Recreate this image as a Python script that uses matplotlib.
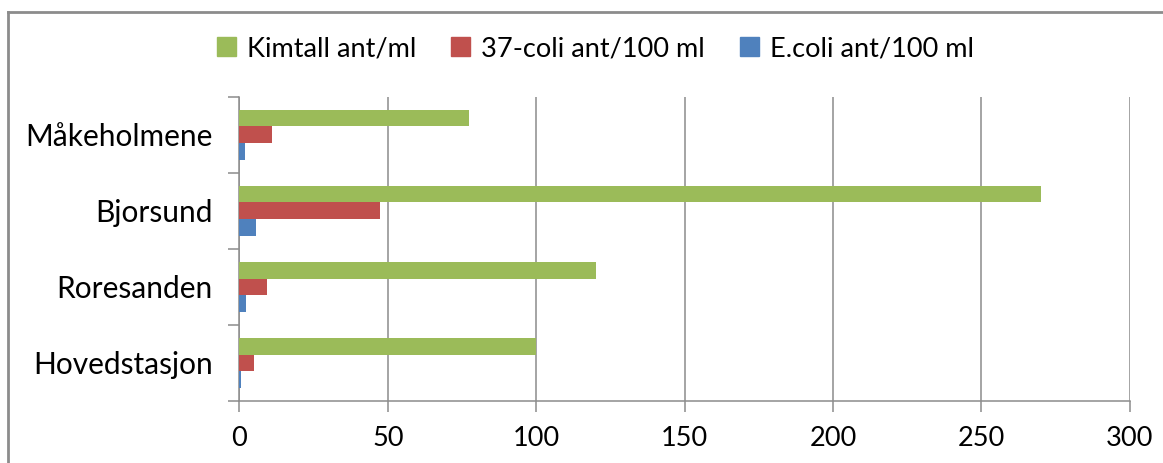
import numpy as np
from matplotlib import pyplot as plt
from matplotlib.lines import Line2D

plt.rcParams['font.family'] = ['Lato', 'DejaVu Sans']

stations = ['Hovedstasjon', 'Roresanden', 'Bjorsund', 'Måkeholmene']
kimtall = [100, 120.3, 270, 77.5]
coli37 = [5.0, 9.4, 47.4, 11.1]
ecoli = [0.5, 2.1, 5.6, 1.8]
series_names = ['Kimtall ant/ml', '37-coli ant/100 ml', 'E.coli ant/100 ml']
colors = ['#9BBB59', '#C0504D', '#4F81BD']
xticks = [0, 50, 100, 150, 200, 250, 300]

fig = plt.figure(figsize=(11.63, 4.63), dpi=100)
ax = fig.add_axes([0.2058, 0.1339, 0.7656, 0.6572])

y = np.arange(len(stations))
h = 0.22
for vals, off, c, name in zip([kimtall, coli37, ecoli], [h, 0, -h], colors, series_names):
    ax.barh(y + off, vals, height=h, color=c, label=name, zorder=3)

ax.set_xlim(0, 300)
ax.set_ylim(-0.5, len(stations) - 0.5)
ax.set_xticks(xticks)
ax.set_yticks(y)
ax.set_yticklabels(stations)
ax.set_yticks(np.arange(-0.5, len(stations), 1), minor=True)
ax.grid(axis='x', color='#8c8c8c', lw=1.1, zorder=0)
ax.grid(axis='y', visible=False)

for s in ['top', 'right']:
    ax.spines[s].set_visible(False)
for s in ['left', 'bottom']:
    ax.spines[s].set_color('#8c8c8c')
    ax.spines[s].set_linewidth(1.1)

ax.tick_params(axis='x', length=8, width=1.1, color='#8c8c8c', labelsize=19.5, pad=10)
ax.tick_params(axis='y', which='major', length=0, labelsize=21.5, pad=19)
ax.tick_params(axis='y', which='minor', length=8, width=1.1, color='#8c8c8c')

handles = [plt.Rectangle((0, 0), 1, 1, color=c) for c in colors]
fig.legend(handles, series_names, loc='center', bbox_to_anchor=(0.512, 0.895), ncol=3,
           frameon=False, fontsize=19.5, handlelength=0.7, handleheight=0.7,
           handletextpad=0.4, columnspacing=1.3)

# chart area border (top and left edges only visible)
fig.add_artist(Line2D([8 / 1163, 8 / 1163], [0, 1 - 12 / 463], color='#8c8c8c', lw=2,
                      transform=fig.transFigure))
fig.add_artist(Line2D([8 / 1163, 1], [1 - 12 / 463, 1 - 12 / 463], color='#8c8c8c', lw=2,
                      transform=fig.transFigure))

fig.savefig('out.png', dpi=100)
